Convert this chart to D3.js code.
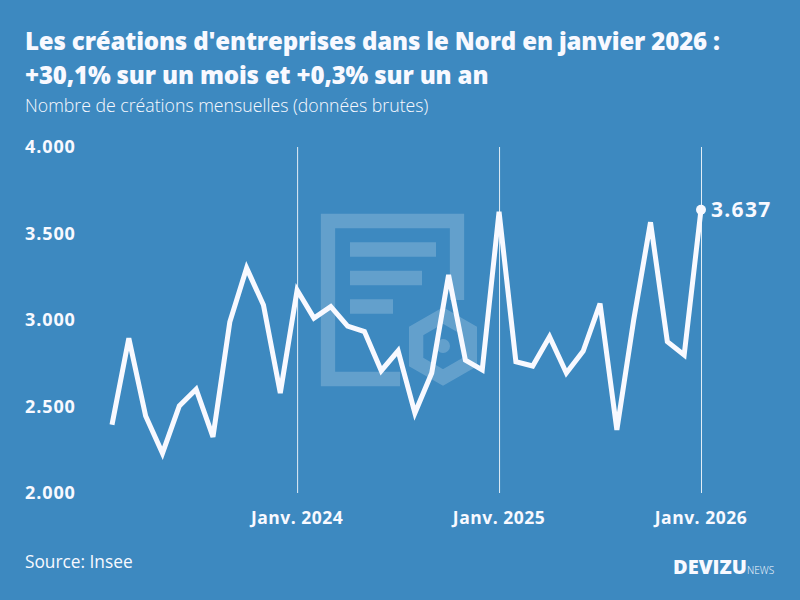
<!DOCTYPE html>
<html><head><meta charset="utf-8">
<script src="https://cdn.jsdelivr.net/npm/d3@7"></script>
<style>html,body{margin:0;padding:0;background:#3d89c0}svg{display:block}text{font-family:"Open Sans",sans-serif;fill:#f8f9ff}</style>
</head><body><svg id="c" width="800" height="600"></svg>
<script>
const months=["2023-02","2023-03","2023-04","2023-05","2023-06","2023-07","2023-08","2023-09","2023-10","2023-11","2023-12","2024-01","2024-02","2024-03","2024-04","2024-05","2024-06","2024-07","2024-08","2024-09","2024-10","2024-11","2024-12","2025-01","2025-02","2025-03","2025-04","2025-05","2025-06","2025-07","2025-08","2025-09","2025-10","2025-11","2025-12","2026-01"];
const values=[2395,2894,2445,2230,2503,2600,2324,2988,3300,3087,2578,3173,3011,3077,2965,2933,2707,2822,2462,2694,3260,2768,2711,3625,2759,2734,2903,2694,2821,3095,2365,3000,3565,2875,2798,3637];
const yTicks=[2000,2500,3000,3500,4000];
const xTicks=[["2024-01","Janv. 2024"],["2025-01","Janv. 2025"],["2026-01","Janv. 2026"]];
const titleLines=["Les créations d'entreprises dans le Nord en janvier 2026 :","+30,1% sur un mois et +0,3% sur un an"];
const subtitle="Nombre de créations mensuelles (données brutes)";
const source="Source: Insee";
const svg=d3.select("#c");
const x=d3.scalePoint().domain(months).range([112,701]);
const y=d3.scaleLinear().domain([2000,4000]).range([493,147]);
svg.append("rect").attr("width",800).attr("height",600).attr("fill","#3d89c0");
// watermark
const wm=svg.append("g").attr("fill","none").attr("stroke","#fff").attr("stroke-opacity",.2).attr("stroke-width",14.3);
wm.append("path").attr("d","M400,379H328V221H457V300");
wm.append("path").attr("d","M350,249.5H436M350,278H422M350,306.5H393");
const hex=d3.range(6).map(i=>{const a=Math.PI/3*i-Math.PI/2;return [443+31*Math.cos(a),346.5+31*Math.sin(a)]});
wm.append("path").attr("d",d3.line().curve(d3.curveLinearClosed)(hex));
svg.append("circle").attr("cx",443).attr("cy",346).attr("r",7).attr("fill","#fff").attr("fill-opacity",.2);
// reference lines
svg.append("g").selectAll("line").data(xTicks).join("line")
 .attr("x1",d=>x(d[0])+.5).attr("x2",d=>x(d[0])+.5).attr("y1",147).attr("y2",493)
 .attr("stroke","#fff").attr("stroke-opacity",.85).attr("stroke-width",1);
// labels
svg.append("g").selectAll("text").data(xTicks).join("text").attr("x",d=>x(d[0])).attr("y",523.5)
 .attr("text-anchor","middle").attr("font-size",17.5).attr("font-weight",700).attr("letter-spacing",.5).text(d=>d[1]);
svg.append("g").selectAll("text").data(yTicks).join("text").attr("x",25).attr("y",d=>y(d)+6)
 .attr("font-size",18).attr("font-weight",700).attr("letter-spacing",.9).text(d=>d3.format(",")(d).replace(",","."));
// line
svg.append("path").attr("d",d3.line().x((d,i)=>x(months[i])).y(d=>y(d))(values))
 .attr("fill","none").attr("stroke","#f8f9ff").attr("stroke-width",5).attr("stroke-linejoin","miter").attr("stroke-miterlimit",4);
const last=values.length-1;
svg.append("circle").attr("cx",x(months[last])).attr("cy",y(values[last])).attr("r",5).attr("fill","#f8f9ff");
svg.append("text").attr("x",711).attr("y",y(values[last])+7).attr("font-size",21).attr("font-weight",700).attr("letter-spacing",1.3)
 .text(d3.format(",")(values[last]).replace(",","."));
// titles
svg.selectAll(".t").data(titleLines).join("text").attr("class","t").attr("x",25).attr("y",(d,i)=>50+i*34)
 .attr("font-size",24).attr("font-weight",800).attr("letter-spacing",-.15).text(d=>d);
svg.append("text").attr("x",25).attr("y",112).attr("font-size",17.7).attr("font-weight",300).text(subtitle);
svg.append("text").attr("x",25).attr("y",568).attr("font-size",17.3).attr("font-weight",400).text(source);
svg.append("text").attr("x",673).attr("y",574).attr("font-size",20).attr("font-weight",800).text("DEVIZU");
svg.append("text").attr("x",747).attr("y",574).attr("font-size",10).attr("font-weight",300).text("NEWS");
</script></body></html>
